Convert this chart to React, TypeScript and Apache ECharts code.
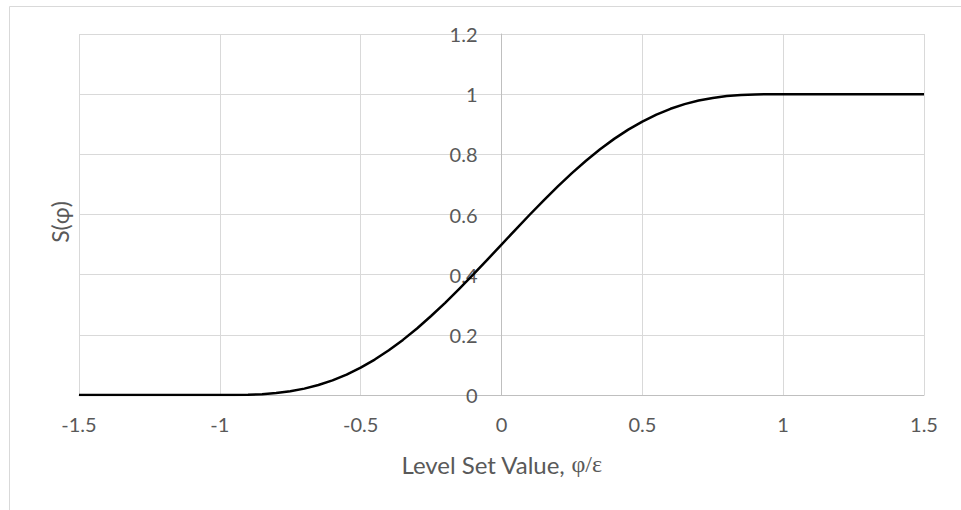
import React, { useEffect, useRef } from "react";
import * as echarts from "echarts";

// Level set value φ/ε and the smoothed step S(φ)
const phi = [
  -1.5, -1.0, -0.95, -0.9, -0.85, -0.8, -0.75, -0.7, -0.65, -0.6, -0.55, -0.5,
  -0.45, -0.4, -0.35, -0.3, -0.25, -0.2, -0.15, -0.1, -0.05, 0.0,
  0.05, 0.1, 0.15, 0.2, 0.25, 0.3, 0.35, 0.4, 0.45, 0.5,
  0.55, 0.6, 0.65, 0.7, 0.75, 0.8, 0.85, 0.9, 0.95, 1.0, 1.5,
];
const sValues = [
  0, 0, 0.0001, 0.0008, 0.0027, 0.0064, 0.0125, 0.0212, 0.0332, 0.0486, 0.0678, 0.091,
  0.1178, 0.1486, 0.1832, 0.2212, 0.2625, 0.3064, 0.3527, 0.4008, 0.4501, 0.5,
  0.5499, 0.5992, 0.6473, 0.6936, 0.7375, 0.7788, 0.8168, 0.8514, 0.8822, 0.909,
  0.9322, 0.9514, 0.9668, 0.9788, 0.9875, 0.9936, 0.9973, 0.9992, 0.9999, 1, 1,
];

const xTitle = "Level Set Value, ";
const xTitleSymbols = "φ/ε";
const yTitle = "S(φ)";

const TEXT = "#595959";
const GRID = "#d9d9d9";
const AXIS = "#bfbfbf";
const FONT = "Lato, 'Open Sans', sans-serif";

// plot rectangle in pixels
const GRID_LEFT = 79;
const GRID_RIGHT = 37;
const WIDTH = 961;
const X_MIN = -1.5;
const X_MAX = 1.5;

export default function App() {
  const ref = useRef<HTMLDivElement>(null);

  useEffect(() => {
    if (!ref.current) return;
    const chart = echarts.init(ref.current, null, { renderer: "svg" });
    // the value axis crosses the horizontal axis at φ/ε = 0
    const plotWidth = WIDTH - GRID_LEFT - GRID_RIGHT;
    const zeroOffset = -((0 - X_MIN) / (X_MAX - X_MIN)) * plotWidth;
    chart.setOption({
      animation: false,
      backgroundColor: "#ffffff",
      textStyle: { fontFamily: FONT },
      grid: { left: GRID_LEFT, right: GRID_RIGHT, top: 34, bottom: 115, containLabel: false },
      xAxis: {
        type: "value",
        min: X_MIN,
        max: X_MAX,
        interval: 0.5,
        axisLine: { show: true, lineStyle: { color: AXIS, width: 1 } },
        axisTick: { show: false },
        axisLabel: { color: TEXT, fontSize: 20, margin: 19, fontFamily: FONT },
        splitLine: { show: true, lineStyle: { color: GRID, width: 1 } },
        name: `{a|${xTitle}}{b|${xTitleSymbols}}`,
        nameLocation: "middle",
        nameGap: 57,
        nameTextStyle: {
          rich: {
            a: { color: TEXT, fontSize: 24, fontFamily: FONT },
            b: { color: TEXT, fontSize: 24, fontFamily: "'Liberation Serif', 'DejaVu Serif', serif" },
          },
        },
      },
      yAxis: {
        type: "value",
        min: 0,
        max: 1.2,
        interval: 0.2,
        position: "left",
        offset: zeroOffset,
        axisLine: { show: true, onZero: false, lineStyle: { color: AXIS, width: 1 } },
        axisTick: { show: false },
        axisLabel: { color: TEXT, fontSize: 20, margin: 24, fontFamily: FONT },
        splitLine: { show: true, lineStyle: { color: GRID, width: 1 } },
      },
      graphic: [
        {
          type: "rect",
          shape: { x: 9.5, y: 6.5, width: 1200, height: 800 },
          style: { fill: "none", stroke: GRID, lineWidth: 1 },
          silent: true,
        },
        {
          type: "text",
          x: 60,
          y: 222,
          rotation: Math.PI / 2,
          style: {
            text: yTitle,
            fill: TEXT,
            font: `23px ${FONT}`,
            align: "center",
            verticalAlign: "middle",
          },
        },
      ],
      series: [
        {
          type: "line",
          data: phi.map((x, i) => [x, sValues[i]]),
          showSymbol: false,
          smooth: false,
          lineStyle: { color: "#000000", width: 2.5, join: "round" },
          z: 5,
        },
      ],
    });
    return () => chart.dispose();
  }, []);

  return (
    <div
      ref={ref}
      style={{ position: "fixed", left: 0, top: 0, width: 961, height: 510 }}
    />
  );
}
